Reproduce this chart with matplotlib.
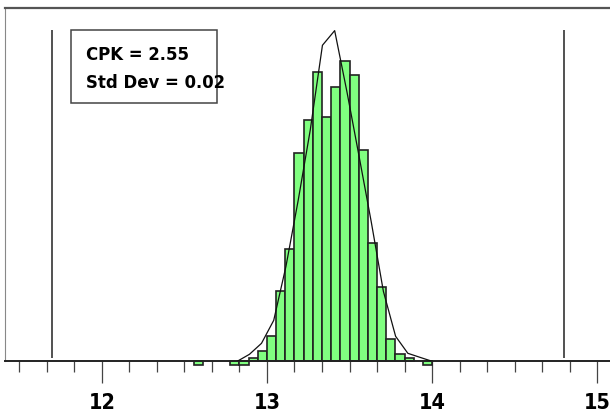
import numpy as np
import matplotlib.pyplot as plt
from matplotlib import font_manager as fm
from matplotlib.patches import Rectangle

# histogram bins (width 1/18), first bin starts at 13 - 8/18
bin_first = 13 - 8 / 18.0
bin_width = 1 / 18.0
counts = [-1, 0, 0, 0, -1, -1, 1, 3.2, 7.7, 21.1, 33.6, 62.4, 72.5, 87.0,
          73.5, 82.5, 90.3, 85.9, 63.5, 35.6, 22.4, 6.6, 2.2, 0.9, 0, -1]

# fitted curve drawn over the bars
curve_x = [12.82, 12.894, 12.967, 13.041, 13.115, 13.189, 13.262, 13.336, 13.41,
           13.484, 13.558, 13.631, 13.705, 13.779, 13.853, 13.926, 14.0]
curve_y = [0, 2.1, 5.4, 12.3, 28.5, 48.3, 69.4, 94.9, 99.3,
           81.0, 61.5, 42.0, 21.0, 7.5, 2.4, 1.2, 0]

lsl, usl = 11.7, 14.8
major_ticks = [12, 13, 14, 15]
cpk_text = "CPK = 2.55"
std_text = "Std Dev = 0.02"


def condensed_bold(size):
    # look for a narrow bold face on the system
    files = fm.findSystemFonts()
    wanted = ['LiberationSansNarrow-Bold.', 'DejaVuSansCondensed-Bold.',
              'RobotoCondensed-Bold.', 'OpenSans_Condensed-Bold.',
              'OpenSansCondensed-Bold.', 'NotoSans-CondensedBold.']
    for w in wanted:
        for f in files:
            if f.split('/')[-1].startswith(w):
                return fm.FontProperties(fname=f, size=size)
    return fm.FontProperties(family='DejaVu Sans', weight='bold',
                             stretch='condensed', size=size)


fp = condensed_bold(15.5)
fp_box = condensed_bold(13.2)

fig = plt.figure(figsize=(6.1, 4.15), dpi=100)
ax = fig.add_axes([5 / 610, 53.7 / 415, 605 / 610, 353 / 415])

lefts = bin_first + np.arange(len(counts)) * bin_width
for x0, c in zip(lefts, counts):
    if c == 0:
        continue
    ax.bar(x0, c, width=bin_width, align='edge', color='#80ff80',
           edgecolor='#222222', linewidth=1.2, clip_on=False, zorder=2)

ax.plot(curve_x, curve_y, color='#111111', linewidth=0.9, zorder=3)

ax.vlines([lsl, usl], 1, 99.5, color='#222222', linewidth=1.1, zorder=1)

ax.set_xlim(11.414, 15.077)
ax.set_ylim(0, 106)

ax.set_xticks(major_ticks)
ax.set_xticklabels([str(t) for t in major_ticks])
minor = [11.5 + k / 6.0 for k in range(22)]
ax.set_xticks([m for m in minor if abs(m - round(m)) > 1e-6], minor=True)
ax.set_yticks([])
ax.tick_params(axis='x', which='major', length=15.5, width=0.9, color='#444444',
               pad=7)
ax.tick_params(axis='x', which='minor', length=7.8, width=0.9, color='#444444')
for lab in ax.get_xticklabels():
    lab.set_fontproperties(fp)

ax.spines['right'].set_visible(False)
ax.spines['top'].set_color('#555555')
ax.spines['top'].set_linewidth(1.6)
ax.spines['left'].set_color('#888888')
ax.spines['left'].set_linewidth(0.8)
ax.spines['bottom'].set_color('#222222')
ax.spines['bottom'].set_linewidth(1.4)

# stats box
fig.patches.append(Rectangle((70.7 / 610, (415 - 103.3) / 415), 146.6 / 610, 73.3 / 415,
                             transform=fig.transFigure, fill=False,
                             edgecolor='#444444', linewidth=1.1))
fig.text(85.7 / 610, (415 - 55) / 415, cpk_text, fontproperties=fp_box,
         va='center', ha='left')
fig.text(85.7 / 610, (415 - 83) / 415, std_text, fontproperties=fp_box,
         va='center', ha='left')

fig.savefig('out.png', dpi=100)
